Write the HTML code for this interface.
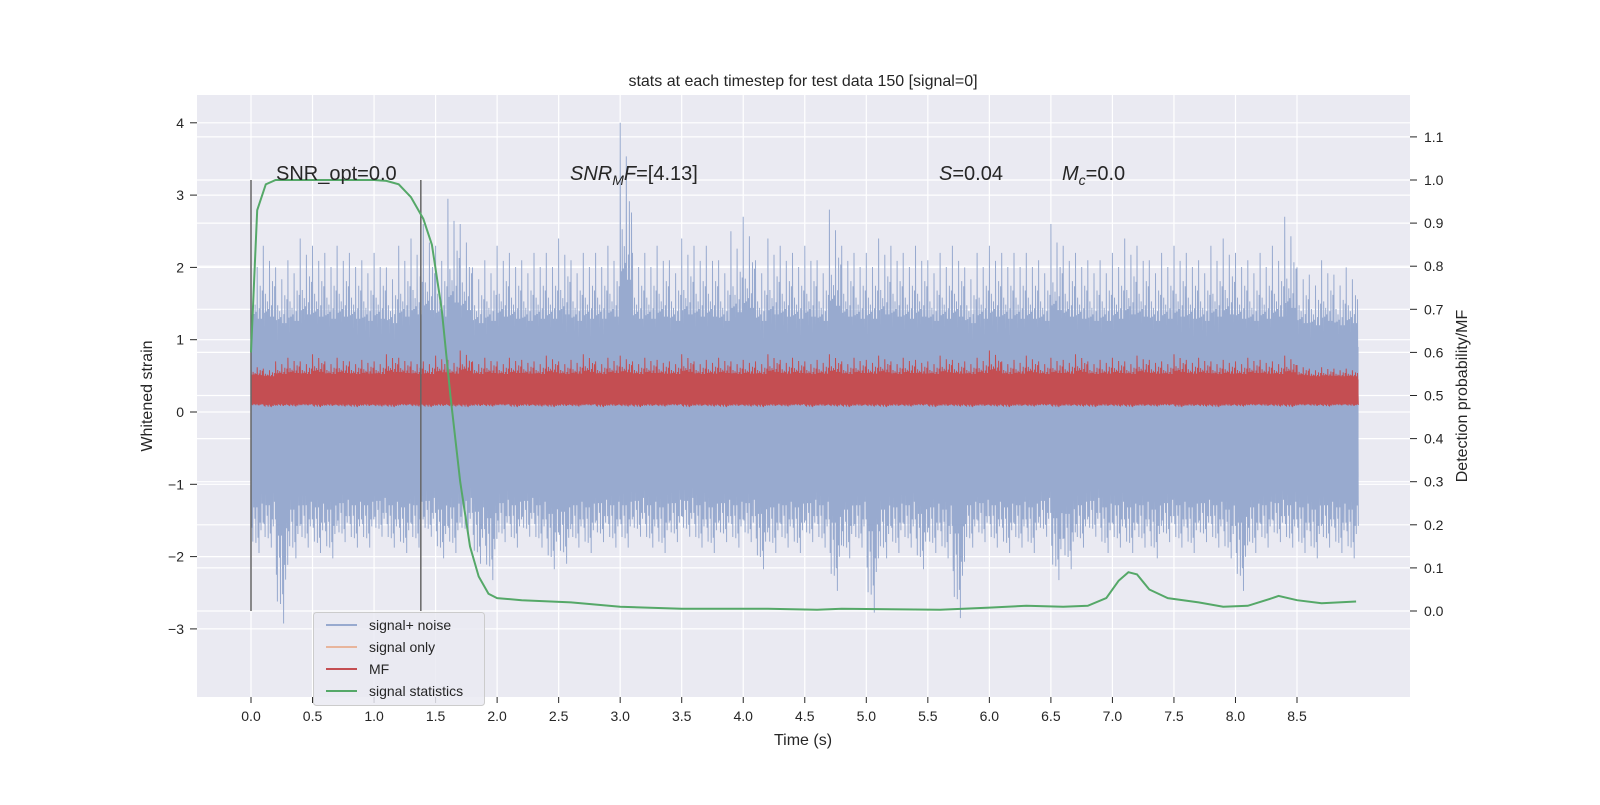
<!DOCTYPE html>
<html><head><meta charset="utf-8">
<style>
body{margin:0;background:#fff;}
svg text{font-family:"Liberation Sans","DejaVu Sans",sans-serif;fill:#262626;}
</style></head>
<body>
<svg id="chart" width="1600" height="800" xmlns="http://www.w3.org/2000/svg">
<rect x="197" y="95" width="1213" height="602" fill="#eaeaf2"/>
<g id="grid"></g>
<g id="series"></g>
<g id="axes"></g>
<text x="803" y="86" font-size="16" text-anchor="middle">stats at each timestep for test data 150 [signal=0]</text>
<text x="803" y="745" font-size="16" text-anchor="middle">Time (s)</text>
<text transform="translate(152,396) rotate(-90)" font-size="16" text-anchor="middle">Whitened strain</text>
<text transform="translate(1467,396) rotate(-90)" font-size="16" text-anchor="middle">Detection probability/MF</text>
<text x="276" y="180" font-size="20">SNR_opt=0.0</text>
<text x="570" y="180" font-size="20"><tspan font-style="italic">SNR</tspan><tspan font-style="italic" font-size="14" dy="5">M</tspan><tspan font-style="italic" dy="-5">F</tspan>=[4.13]</text>
<text x="939" y="180" font-size="20"><tspan font-style="italic">S</tspan>=0.04</text>
<text x="1062" y="180" font-size="20"><tspan font-style="italic">M</tspan><tspan font-style="italic" font-size="14" dy="5">c</tspan><tspan dy="-5">=0.0</tspan></text>
<g>
<rect x="313.5" y="612.5" width="171" height="93" rx="3" fill="#eaeaf2" fill-opacity="0.85" stroke="#cccccc"/>
<line x1="326" y1="625" x2="357" y2="625" stroke="#98aacf" stroke-width="2"/>
<text x="369" y="630" font-size="14">signal+ noise</text>
<line x1="326" y1="647" x2="357" y2="647" stroke="#e8b59c" stroke-width="2"/>
<text x="369" y="652" font-size="14">signal only</text>
<line x1="326" y1="669" x2="357" y2="669" stroke="#c44e52" stroke-width="2"/>
<text x="369" y="674" font-size="14">MF</text>
<line x1="326" y1="691" x2="357" y2="691" stroke="#55a868" stroke-width="2"/>
<text x="369" y="696" font-size="14">signal statistics</text>
</g>
</svg>
<script>
const noiseHi=[2.2,2.3,2.0,2.1,2.4,2.3,2.2,2.3,2.2,2.1, 2.2,2.0,2.3,2.4,2.6,2.3,2.95,2.6,2.0,2.1, 2.3,2.2,2.1,2.2,2.2,2.4,2.1,2.2,2.2,2.3, 4.0,2.2,2.2,2.3,2.1,2.4,2.3,2.3,2.1,2.5, 2.7,2.1,2.4,2.3,2.2,2.3,2.1,2.8,2.3,2.2, 2.2,2.4,2.3,2.2,2.3,2.1,2.2,2.3,2.0,2.2, 2.3,2.2,2.2,2.2,2.1,2.6,2.3,2.2,2.1,2.1, 2.2,2.4,2.3,2.1,2.2,2.3,2.2,2.1,2.3,2.4, 2.2,2.1,2.2,2.3,2.7,2.0,1.9,2.1,1.9,2.0];
const noiseLo=[-2.3,-2.2,-3.6,-2.4,-2.2,-2.3,-2.4,-2.1,-2.2,-2.2, -2.0,-2.2,-2.3,-2.2,-2.0,-2.4,-2.3,-2.0,-2.5,-2.8, -2.1,-2.2,-2.0,-2.2,-2.6,-2.5,-2.2,-2.3,-2.1,-2.2, -2.2,-2.0,-2.2,-2.3,-2.1,-2.0,-2.2,-2.3,-2.1,-2.2, -2.1,-2.6,-2.3,-2.2,-2.3,-2.1,-2.2,-3.0,-2.4,-2.2, -3.4,-2.4,-2.3,-2.2,-2.6,-2.3,-2.4,-3.5,-2.2,-2.1, -2.2,-2.3,-2.2,-2.3,-2.0,-2.8,-2.6,-2.2,-2.0,-2.3, -2.2,-2.3,-2.2,-2.4,-2.1,-2.2,-2.3,-2.1,-2.2,-2.4, -3.0,-2.3,-2.2,-2.1,-2.2,-2.3,-2.4,-2.2,-2.3,-2.4];
const mfHi=[0.65,0.6,0.7,0.75,0.7,0.8,0.7,0.75,0.7,0.72, 0.7,0.8,0.75,0.7,0.7,0.78,0.72,0.85,0.7,0.75, 0.7,0.75,0.72,0.7,0.78,0.7,0.72,0.8,0.7,0.75, 0.78,0.7,0.75,0.72,0.7,0.8,0.7,0.72,0.75,0.7, 0.72,0.7,0.8,0.72,0.75,0.7,0.72,0.8,0.7,0.75, 0.72,0.78,0.7,0.75,0.72,0.7,0.78,0.72,0.7,0.75, 0.85,0.7,0.72,0.78,0.7,0.75,0.72,0.8,0.7,0.72, 0.75,0.7,0.78,0.72,0.7,0.8,0.72,0.75,0.7,0.72, 0.7,0.75,0.72,0.7,0.78,0.65,0.6,0.62,0.6,0.6];
const mfLo=[0.08,0.05,0.07,0.06,0.08,0.05,0.07,0.06,0.05,0.07, 0.06,0.05,0.08,0.06,0.05,0.07,0.06,0.05,0.07,0.06, 0.08,0.05,0.07,0.06,0.05,0.07,0.06,0.08,0.05,0.07, 0.06,0.05,0.07,0.06,0.08,0.05,0.07,0.06,0.05,0.07, 0.06,0.05,0.07,0.06,0.08,0.05,0.07,0.06,0.05,0.07, 0.06,0.05,0.07,0.06,0.08,0.05,0.07,0.06,0.05,0.07, 0.06,0.05,0.07,0.06,0.08,0.05,0.07,0.06,0.05,0.07, 0.06,0.05,0.07,0.06,0.08,0.05,0.07,0.06,0.05,0.07, 0.06,0.08,0.07,0.06,0.05,0.08,0.07,0.06,0.08,0.07];
const statT=[0,0.05,0.12,0.2,0.5,1.0,1.1,1.2,1.3,1.4,1.47,1.55,1.62,1.7,1.78,1.85,1.93,2.0,2.2,2.6,3.0,3.5,4.2,4.6,4.8,5.6,6.0,6.3,6.6,6.8,6.95,7.05,7.13,7.2,7.3,7.45,7.7,7.9,8.1,8.3,8.35,8.5,8.7,8.98];
const statP=[0.6,0.93,0.99,1.0,1.0,1.0,0.998,0.99,0.96,0.91,0.85,0.7,0.5,0.3,0.15,0.08,0.04,0.03,0.025,0.02,0.01,0.005,0.005,0.003,0.005,0.003,0.008,0.012,0.01,0.012,0.03,0.07,0.09,0.085,0.05,0.03,0.02,0.01,0.012,0.03,0.035,0.025,0.018,0.022];
const markerT=[0,1.38];
const xTicks=[0,0.5,1,1.5,2,2.5,3,3.5,4,4.5,5,5.5,6,6.5,7,7.5,8,8.5];
const yTicks=[-3,-2,-1,0,1,2,3,4];
const y2Ticks=[0,0.1,0.2,0.3,0.4,0.5,0.6,0.7,0.8,0.9,1.0,1.1];

const X=t=>251+t*123.06;
const Y=v=>412-v*72.3;
const Y2=p=>611-p*431;
const NS="http://www.w3.org/2000/svg";
function mk(tag,attrs,parent){const e=document.createElementNS(NS,tag);for(const k in attrs)e.setAttribute(k,attrs[k]);parent.appendChild(e);return e;}
const grid=document.getElementById('grid'),series=document.getElementById('series'),axes=document.getElementById('axes');

xTicks.forEach(t=>{
  const l=mk('line',{x1:X(t),x2:X(t),y1:95,y2:697,stroke:'#fff','stroke-width':1.2},grid);
  
  
  mk('line',{x1:X(t),x2:X(t),y1:697,y2:703,stroke:'#262626'},axes);
  const tx=mk('text',{x:X(t),y:721,'font-size':14,'text-anchor':'middle'},axes);
  tx.textContent=t.toFixed(1);
  
  
});
yTicks.forEach(v=>{
  const l=mk('line',{x1:197,x2:1410,y1:Y(v),y2:Y(v),stroke:'#fff','stroke-width':1.2},grid);
  
  
  mk('line',{x1:190,x2:197,y1:Y(v),y2:Y(v),stroke:'#262626'},axes);
  const tx=mk('text',{x:184,y:Y(v)+5,'font-size':14,'text-anchor':'end'},axes);
  tx.textContent=v<0?'\u2212'+Math.abs(v):String(v);
  
  
});
y2Ticks.forEach(p=>{
  const l=mk('line',{x1:197,x2:1410,y1:Y2(p),y2:Y2(p),stroke:'#fff','stroke-width':1.2},grid);
  
  
  mk('line',{x1:1410,x2:1417,y1:Y2(p),y2:Y2(p),stroke:'#262626'},axes);
  const tx=mk('text',{x:1424,y:Y2(p)+5,'font-size':14},axes);
  tx.textContent=p.toFixed(1);
  
  
});

const pat=[1,0.45,0.7,0.35,0.6,0.5,0.85,0.4,0.55,0.65,0.4,0.8];
function band(hi,lo,coreHi,coreLo,color,name,sw){
  let pts=[];const n=hi.length,sub=pat.length;
  for(let i=0;i<n;i++){
    for(let j=0;j<sub;j++){
      const t=(i+j/sub)*0.1;
      const h=coreHi+(hi[i]-coreHi)*pat[j]*(j%3===0?1:0.75);
      const l=coreLo+(lo[i]-coreLo)*pat[(j+5)%sub]*(j%4===0?1:0.75);
      pts.push(X(t).toFixed(1)+','+Y(h).toFixed(1));
      pts.push((X(t)+0.8).toFixed(1)+','+Y(l).toFixed(1));
    }
  }
  const r=mk('rect',{x:X(0),y:Y(coreHi),width:X(n*0.1)-X(0),height:Y(coreLo)-Y(coreHi),fill:color},series);
  
  
  const p=mk('polyline',{points:pts.join(' '),fill:'none',stroke:color,'stroke-width':sw},series);
  
  
}
band(noiseHi,noiseLo,0.9,-0.9,'#98aacf','signal-noise-line',1);
band(mfHi,mfLo,0.45,0.12,'#c44e52','mf-line',1);

markerT.forEach(t=>{
  const l=mk('line',{x1:X(t),x2:X(t),y1:Y2(1.0),y2:Y2(0),stroke:'#666','stroke-width':1.5},series);
  
  
});
const sp=mk('polyline',{points:statT.map((t,i)=>X(t).toFixed(1)+','+Y2(statP[i]).toFixed(1)).join(' '),fill:'none',stroke:'#55a868','stroke-width':2},series);


</script>
</body></html>
